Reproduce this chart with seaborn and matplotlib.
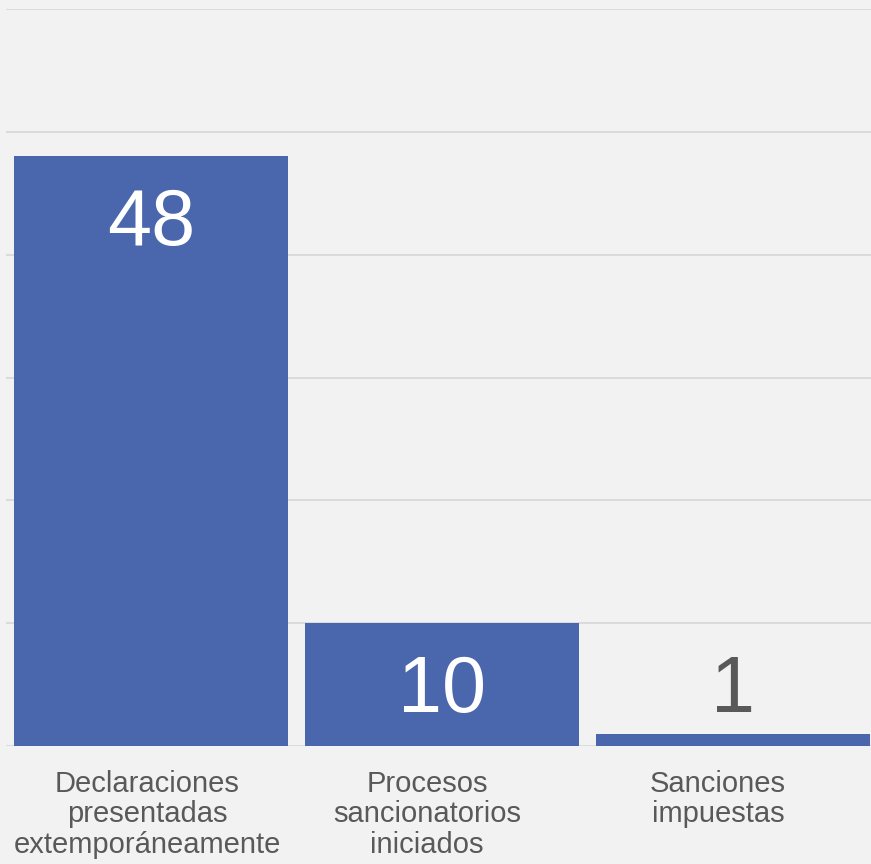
import matplotlib
matplotlib.use("Agg")
import matplotlib.pyplot as plt
import matplotlib.transforms as mtransforms
import seaborn as sns
import pandas as pd

categories = ["Declaraciones\npresentadas\nextemporáneamente",
              "Procesos\nsancionatorios\niniciados",
              "Sanciones\nimpuestas"]
values = [48, 10, 1]

sns.set_theme(style="white")
plt.rcParams['font.family'] = ['Liberation Sans', 'DejaVu Sans']

bg = "#F2F2F2"
bar_color = "#4A66AC"
text_color = "#595959"

df = pd.DataFrame({"cat": categories, "val": values})

fig = plt.figure(figsize=(8.71, 8.64), dpi=100, facecolor=bg)
ax_left = 5.5 / 871
ax_w = 873 / 871
ax = fig.add_axes([ax_left, 1 - 746 / 864, ax_w, (746 - 9) / 864])
ax.set_facecolor(bg)

sns.barplot(data=df, x="cat", y="val", color=bar_color, width=0.94,
            saturation=1, ax=ax, zorder=3, linewidth=0)

ax.set_ylim(0, 60)
ax.set_xlim(-0.5, 2.5)
ax.set_yticks(range(0, 61, 10))
ax.yaxis.grid(True, color="#D9D9D9", linewidth=1.3, zorder=0)
ax.set_yticklabels([])
ax.tick_params(axis="y", length=0)
ax.tick_params(axis="x", length=0, pad=17, labelsize=21, labelcolor=text_color)
shifts = [-4, -15, -15]
for lbl, dx in zip(ax.get_xticklabels(), shifts):
    lbl.set_linespacing(1.12)
    lbl.set_transform(lbl.get_transform() +
                      mtransforms.ScaledTranslation(dx / 100, 0, fig.dpi_scale_trans))
for s in ax.spines.values():
    s.set_visible(False)
ax.set_xlabel("")
ax.set_ylabel("")

for i, v in enumerate(values):
    if v >= 5:
        ax.annotate(str(v), (i, v), xytext=(0, -64), textcoords="offset points",
                    ha="center", va="baseline", fontsize=57, color="white", zorder=5)
    else:
        ax.annotate(str(v), (i, v), xytext=(0, 15.5), textcoords="offset points",
                    ha="center", va="baseline", fontsize=57, color=text_color, zorder=5)

fig.savefig("out.png", dpi=100, facecolor=bg)
